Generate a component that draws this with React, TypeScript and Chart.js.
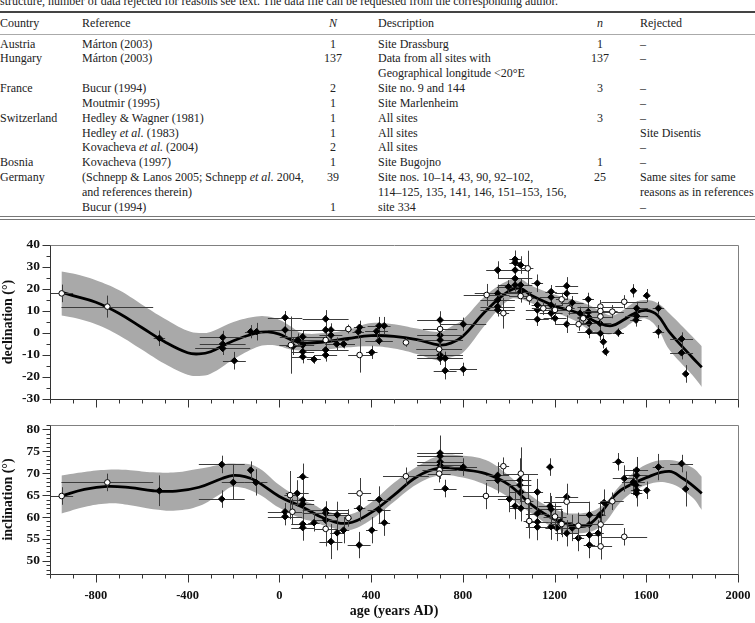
import React, { useEffect, useRef } from "react";
import { Chart, registerables } from "chart.js";
Chart.register(...registerables);

const SERIF = "'Liberation Serif', 'Times New Roman', serif";
Chart.defaults.font.family = SERIF;
Chart.defaults.color = "#111";

// ---------- table ----------
const CAPTION =
  "structure, number of data rejected for reasons see text. The data file can be requested from the corresponding author.";
const TABLE_HEAD = ["Country", "Reference", "N", "Description", "n", "Rejected"];
const TABLE_ROWS = [
  ["Austria", "Márton (2003)", "1", "Site Drassburg", "1", "–"],
  ["Hungary", "Márton (2003)", "137", "Data from all sites with", "137", "–"],
  ["", "", "", "Geographical longitude <20°E", "", ""],
  ["France", "Bucur (1994)", "2", "Site no. 9 and 144", "3", "–"],
  ["", "Moutmir (1995)", "1", "Site Marlenheim", "", "–"],
  ["Switzerland", "Hedley & Wagner (1981)", "1", "All sites", "3", "–"],
  ["", "Hedley et al. (1983)", "1", "All sites", "", "Site Disentis"],
  ["", "Kovacheva et al. (2004)", "2", "All sites", "", "–"],
  ["Bosnia", "Kovacheva (1997)", "1", "Site Bugojno", "1", "–"],
  ["Germany", "(Schnepp & Lanos 2005; Schnepp et al. 2004,", "39", "Site nos. 10–14, 43, 90, 92–102,", "25", "Same sites for same"],
  ["", "and references therein)", "", "114–125, 135, 141, 146, 151–153, 156,", "", "reasons as in references"],
  ["", "Bucur (1994)", "1", "site 334", "", "–"],
];

// ---------- axes ----------
const X_TICKS = [-800, -400, 0, 400, 800, 1200, 1600, 2000];
const DEC_TICKS = [-30, -20, -10, 0, 10, 20, 30, 40];
const INC_TICKS = [50, 55, 60, 65, 70, 75, 80];

// ---------- declination ----------
const DEC_CURVE_AGE = [-950, -900, -800, -700, -600, -500, -400, -350, -300, -200, -100, -50, 0, 50, 100, 200, 300, 400, 500, 600, 700, 750, 800, 900, 1000, 1050, 1100, 1200, 1300, 1400, 1450, 1500, 1550, 1600, 1650, 1700, 1800, 1842];
const DEC_CURVE = [18.5, 17, 14, 9, 2.5, -4, -9, -9.5, -8.5, -3.5, 0, 0.5, -0.5, -3, -4.5, -4, -2.5, -1.2, -1.5, -3, -5.5, -4.5, -1.5, 10, 19, 20.3, 17, 12.3, 9.2, 4.2, 3.3, 5.9, 9, 10.3, 8, 0.5, -11, -15.6];
const DEC_BAND_AGE = [-950, -900, -800, -700, -600, -500, -400, -350, -300, -200, -100, -50, 0, 50, 100, 200, 300, 400, 500, 600, 700, 750, 800, 900, 1000, 1050, 1100, 1200, 1300, 1350, 1400, 1450, 1500, 1550, 1600, 1650, 1700, 1800, 1842];
const DEC_BAND_HI = [28, 27, 24, 19.5, 13, 6.5, 1, 0, 0.5, 5, 7.5, 7.5, 6, 3, 0, 0, 1.5, 4.5, 4, 2, 0.5, 3, 6, 17, 24, 24.5, 21.5, 17.5, 14.5, 12.7, 10, 8, 10.5, 14, 15, 13.5, 9, -1.5, -6];
const DEC_BAND_LO = [8, 7, 4, -1, -7.5, -14, -19, -19.5, -18.5, -12, -6.5, -5.5, -6, -7.5, -8, -7.5, -6.5, -6, -7, -9.5, -12.5, -11, -9, 4, 15, 15.5, 13.5, 9.5, 5, 1.5, 0, -0.5, 2, 5.5, 6.5, 2, -7.5, -19, -24.5];
// [age, declination, age error, declination error, open marker]
const DEC_SAMPLES = [
  [-949, 18, 50, 4, 1], [-750, 12, 200, 5, 1], [-523, -2.4, 25, 3.5, 0],
  [-247, -2, 100, 3, 0], [-247, -5, 100, 3, 0], [-247, -7, 120, 3, 0], [-196, -12.6, 50, 4, 0],
  [-125, 0.6, 25, 3, 0], [-99, 0.6, 25, 4, 0], [25, 7, 75, 3, 0], [25, 1.4, 75, 3, 0],
  [50, -5.5, 50, 13, 1], [60, -6, 30, 4, 0], [80, -3.2, 30, 3, 0], [102, -1.7, 100, 3, 0],
  [102, -5.5, 50, 3, 0], [102, -8.5, 50, 3, 0], [102, -10.8, 50, 3, 0], [151, -12, 30, 2, 0],
  [202, 6.4, 100, 4, 0], [202, 1.4, 100, 3, 0], [202, -3.2, 100, 3, 1], [202, -7.7, 100, 3, 0],
  [202, -10, 50, 3, 0], [225, 1.4, 50, 3, 0], [225, -1, 50, 3, 0], [250, -5, 50, 3, 0],
  [280, -5, 50, 2, 0], [301, 1.8, 15, 2, 1], [344, 0.6, 25, 3, 0], [350, 2.6, 25, 3, 0],
  [350, -10, 50, 8, 1], [403, -8.8, 25, 3, 0], [424, 0.8, 50, 3, 0], [435, 3.3, 50, 4, 0],
  [457, 3.3, 25, 4, 0], [435, -3.5, 60, 2, 0], [552, -4.3, 10, 2, 1],
  [701, 5.9, 100, 4, 0], [701, 1.8, 75, 3, 1], [701, -1, 100, 3, 0], [701, -3.2, 100, 3, 0],
  [697, -7.4, 100, 3, 1], [701, -10, 100, 3, 0], [701, -11.5, 100, 3, 0], [723, -11.5, 75, 3, 0],
  [723, -17.1, 50, 4, 0], [802, -16.5, 60, 3, 0], [802, 4, 100, 3, 0], [904, 17.3, 100, 5, 1],
  [952, 28.6, 50, 4, 0], [952, 18, 100, 4, 0], [952, 15, 75, 3, 0], [952, 12, 75, 3, 0],
  [952, 10.5, 75, 3, 0], [977, 9, 25, 7, 1], [999, 21, 50, 3, 0], [1028, 33.5, 25, 4, 0],
  [1028, 32, 25, 4, 0], [1028, 28.6, 50, 3, 0], [1028, 24.8, 75, 3, 0], [1028, 21.8, 75, 3, 0],
  [1052, 16.8, 50, 3, 1], [1052, 30.9, 25, 4, 0], [1052, 21.8, 50, 3, 0], [1052, 18.8, 50, 3, 0],
  [1083, 29.4, 25, 8, 1], [1090, 15.8, 25, 3, 1], [1125, 22.6, 25, 4, 0], [1125, 12.7, 25, 3, 0],
  [1125, 10.5, 50, 3, 0], [1125, 6.2, 50, 3, 0], [1151, 11.2, 50, 3, 1], [1185, 18.8, 25, 3, 0],
  [1185, 16.3, 50, 3, 0], [1185, 12.7, 50, 3, 0], [1185, 9, 50, 3, 0], [1202, 10.5, 50, 3, 1],
  [1202, 6.7, 50, 3, 0], [1231, 15.3, 25, 3, 1], [1253, 21.4, 50, 4, 0], [1253, 18, 50, 3, 0],
  [1253, 4, 50, 4, 0], [1263, 11.2, 25, 3, 1], [1277, 13.8, 50, 3, 0], [1311, 9, 50, 3, 0],
  [1305, 4, 50, 3, 1], [1347, 15.3, 25, 3, 0], [1347, 9.7, 50, 3, 0], [1350, 7.1, 50, 3, 0],
  [1350, 4.4, 50, 3, 0], [1350, 0.6, 50, 3, 0], [1325, 6.7, 25, 3, 1], [1398, 4.4, 50, 3, 0],
  [1400, 12, 100, 3, 1], [1400, 10, 75, 3, 1], [1400, 7.5, 50, 3, 1], [1400, -0.2, 50, 3, 0],
  [1413, -4, 10, 3, 0], [1423, -8.5, 10, 2, 0], [1452, 9.7, 50, 3, 1], [1504, 14.2, 100, 3, 1],
  [1478, 0.2, 25, 2, 0], [1544, 19.2, 10, 3, 0], [1558, 11.2, 50, 3, 0], [1558, 7.7, 50, 3, 0],
  [1555, 5.9, 25, 3, 0], [1602, 17, 15, 3, 0], [1653, 11.2, 25, 3, 0], [1653, 0.6, 25, 3, 0],
  [1754, -2.7, 50, 3, 0], [1754, -9, 50, 3, 0], [1772, -18.6, 10, 4, 0],
];

// ---------- inclination ----------
const INC_CURVE_AGE = [-950, -850, -750, -650, -550, -450, -350, -250, -200, -150, -100, 0, 100, 200, 300, 400, 500, 600, 700, 800, 900, 1000, 1100, 1200, 1300, 1350, 1400, 1450, 1500, 1600, 1700, 1760, 1800, 1842];
const INC_CURVE = [64.8, 66.3, 67.0, 66.7, 66.0, 65.9, 66.8, 68.8, 69.5, 69.2, 68.2, 64.7, 62.3, 59.6, 58.6, 61, 65, 69.2, 71.2, 70.8, 69.9, 67.4, 62.8, 59.5, 57.9, 58.3, 60.8, 64.2, 66.5, 69, 70.4, 68.8, 67.3, 65.4];
const INC_BAND_AGE = [-950, -850, -750, -650, -550, -450, -350, -250, -200, -100, 0, 100, 150, 200, 300, 400, 500, 600, 700, 800, 900, 1000, 1100, 1200, 1300, 1400, 1500, 1600, 1700, 1800, 1842];
const INC_BAND_HI = [69.5, 70.3, 70.8, 70.7, 70.2, 70.2, 71, 72, 72.2, 71.5, 67.3, 64, 62.8, 61.5, 60.5, 63.3, 67.8, 71.5, 74, 74, 73, 69.5, 64.8, 61.8, 60.8, 62.3, 68, 72, 73, 71.3, 69.2];
const INC_BAND_LO = [60.8, 62.3, 63.1, 62.7, 61.8, 61.5, 62.5, 65.5, 66.9, 65.5, 62.1, 59.6, 59, 58, 57, 59.4, 63.5, 67.5, 69.5, 69, 67.3, 64.5, 60.8, 57.5, 56.3, 57.8, 64, 67.3, 67.7, 64.5, 61.6];
// [age, inclination, age error, inclination error, open marker]
const INC_SAMPLES = [
  [-949, 64.8, 50, 2, 1], [-750, 67.9, 200, 2, 1], [-523, 66, 0, 3.5, 0], [-251, 72, 100, 2, 0],
  [-251, 64.1, 100, 2, 0], [-201, 67.9, 50, 4, 0], [-125, 70.7, 0, 2, 0], [-102, 67.9, 50, 3, 0],
  [47, 65, 25, 5.5, 1], [25, 61.2, 75, 2, 0], [25, 60.1, 75, 2, 0], [57, 61.2, 25, 3, 1],
  [78, 65.4, 50, 3, 0], [102, 69.2, 25, 3, 0], [102, 63.9, 50, 3, 0], [102, 63, 50, 3, 0],
  [102, 58.4, 50, 3, 0], [102, 57.6, 50, 3, 0], [151, 58.7, 25, 2, 0], [202, 61.6, 100, 2, 0],
  [202, 60.9, 100, 2, 0], [202, 59.3, 50, 3, 0], [202, 57.3, 50, 4, 1], [225, 54.4, 50, 4, 0],
  [252, 60.5, 50, 3, 0], [252, 56.4, 30, 4, 0], [280, 57, 25, 3, 0], [301, 59.8, 15, 2, 1],
  [350, 65.4, 50, 3.5, 1], [350, 62, 25, 3, 0], [348, 53.6, 50, 3, 0], [403, 57, 25, 3, 0],
  [435, 64, 50, 3, 0], [435, 61.6, 50, 3, 0], [458, 58.7, 25, 3, 0], [552, 69.3, 100, 2, 1],
  [701, 74.6, 100, 4, 0], [701, 73.9, 100, 3, 0], [701, 72.6, 100, 3, 0], [701, 71.8, 100, 3, 0],
  [699, 70.7, 75, 2, 1], [697, 69.9, 50, 2, 1], [723, 66.5, 50, 2, 0], [802, 71.4, 60, 2, 0],
  [901, 64.8, 100, 3, 1], [952, 69.5, 50, 3, 0], [952, 68.4, 50, 3, 0], [977, 71.6, 25, 2, 1],
  [1003, 64.1, 50, 3, 0], [1028, 62.5, 25, 3, 0], [1049, 68.4, 50, 5, 0], [1053, 69.9, 75, 6, 1],
  [1049, 67.3, 50, 3, 0], [1053, 65.7, 50, 3, 0], [1053, 62, 50, 3, 0], [1083, 63.6, 25, 6, 1],
  [1090, 59.1, 25, 4, 1], [1125, 65.7, 25, 3, 0], [1125, 60.8, 50, 3, 0], [1125, 58.9, 50, 3, 0],
  [1125, 57.7, 50, 3, 0], [1180, 71.4, 15, 2, 0], [1180, 62.5, 50, 3, 0], [1185, 61.8, 50, 3, 0],
  [1202, 60.1, 50, 3, 1], [1185, 57.8, 50, 3, 0], [1210, 57.5, 50, 3, 0], [1227, 58.9, 50, 3, 0],
  [1231, 58.4, 50, 3, 1], [1253, 64.6, 50, 3, 0], [1253, 63.5, 100, 3, 1], [1253, 56.3, 50, 3, 0],
  [1277, 57.5, 25, 3, 0], [1304, 58, 50, 3, 1], [1304, 55.2, 25, 3, 0], [1352, 60.5, 50, 3, 0],
  [1352, 58.3, 50, 3, 0], [1352, 55.9, 50, 3, 0], [1352, 53.6, 25, 3, 0], [1390, 56.3, 25, 3, 0],
  [1401, 58.3, 100, 3, 1], [1401, 53.3, 50, 3, 1], [1504, 55.5, 100, 2, 1], [1398, 60.5, 25, 3, 0],
  [1416, 63.3, 25, 3, 0], [1452, 63.6, 50, 2, 1], [1478, 72.6, 25, 2, 0], [1504, 68.8, 50, 3, 0],
  [1544, 68, 50, 3, 0], [1558, 70.7, 50, 3, 0], [1558, 69.5, 50, 3, 0], [1555, 67.3, 25, 3, 0],
  [1558, 66.1, 25, 3, 0], [1558, 65.4, 25, 3, 0], [1602, 66.1, 10, 2, 0], [1653, 71.4, 25, 3, 0],
  [1754, 72.2, 50, 2, 0], [1772, 66.4, 10, 4, 0],
];

// ---------- plugins ----------
const errorBarPlugin = {
  id: "errbars",
  beforeDatasetDraw(chart: any, args: any) {
    const ds = chart.data.datasets[args.index];
    if (!ds.errors) return;
    const { ctx, chartArea: a, scales } = chart;
    const x = scales.x, y = scales.y;
    ctx.save();
    ctx.beginPath();
    ctx.rect(a.left, a.top, a.right - a.left, a.bottom - a.top);
    ctx.clip();
    ctx.strokeStyle = "#3c3c3c";
    ctx.lineWidth = 1;
    ctx.beginPath();
    ds.data.forEach((p: any, i: number) => {
      const [xe, ye] = ds.errors[i];
      const px = x.getPixelForValue(p.x);
      const py = y.getPixelForValue(p.y);
      if (xe) {
        ctx.moveTo(x.getPixelForValue(p.x - xe), Math.round(py) + 0.5);
        ctx.lineTo(x.getPixelForValue(p.x + xe), Math.round(py) + 0.5);
      }
      if (ye) {
        ctx.moveTo(Math.round(px) + 0.5, y.getPixelForValue(p.y - ye));
        ctx.lineTo(Math.round(px) + 0.5, y.getPixelForValue(p.y + ye));
      }
    });
    ctx.stroke();
    ctx.restore();
  },
};

const framePlugin = {
  id: "axisFrame",
  afterDatasetsDraw(chart: any, _args: any, opts: any) {
    const { ctx, chartArea: a, scales } = chart;
    const x = scales.x, y = scales.y;
    const L = Math.round(a.left) + 0.5, R = Math.round(a.right) + 0.5;
    const T = Math.round(a.top) + 0.5, B = Math.round(a.bottom) + 0.5;
    ctx.save();
    ctx.lineWidth = 1;
    ctx.strokeStyle = "#808080";
    ctx.beginPath();
    ctx.moveTo(L, T); ctx.lineTo(R, T); ctx.lineTo(R, B);
    ctx.stroke();
    ctx.strokeStyle = "#333";
    ctx.beginPath();
    ctx.moveTo(L, T); ctx.lineTo(L, B); ctx.lineTo(R, B);
    const eps = 1e-6;
    for (let v = Math.ceil(y.min / opts.yMinor) * opts.yMinor; v <= y.max + eps; v += opts.yMinor) {
      const r = Math.abs(v % opts.yMajor);
      const major = r < eps || Math.abs(r - opts.yMajor) < eps;
      const py = Math.round(y.getPixelForValue(v)) + 0.5;
      ctx.moveTo(L - (major ? 8 : 4), py);
      ctx.lineTo(L, py);
    }
    for (let v = x.min; v <= x.max + eps; v += opts.xMinor) {
      const r = Math.abs(v % opts.xMajor);
      const major = r < eps || Math.abs(r - opts.xMajor) < eps;
      const px = Math.round(x.getPixelForValue(v)) + 0.5;
      ctx.moveTo(px, B);
      ctx.lineTo(px, B + (major ? 8 : 4));
    }
    ctx.stroke();
    ctx.restore();
  },
};

function buildConfig(p: any) {
  const pts = (open: number) => p.samples.filter((s: number[]) => s[4] === open);
  const filled = pts(0), opened = pts(1);
  return {
    type: "line",
    data: {
      datasets: [
        {
          data: p.bandAge.map((a: number, i: number) => ({ x: a, y: p.bandHi[i] })),
          borderWidth: 0, pointRadius: 0, tension: 0.4, fill: false, order: 6,
          borderColor: "rgba(0,0,0,0)",
        },
        {
          data: p.bandAge.map((a: number, i: number) => ({ x: a, y: p.bandLo[i] })),
          borderWidth: 0, pointRadius: 0, tension: 0.4, fill: "-1", order: 5,
          borderColor: "rgba(0,0,0,0)", backgroundColor: "#a9a9a9",
        },
        {
          data: p.curveAge.map((a: number, i: number) => ({ x: a, y: p.curve[i] })),
          borderWidth: 2.8, borderColor: "#000", pointRadius: 0, tension: 0.4, fill: false, order: 3,
        },
        {
          data: filled.map((s: number[]) => ({ x: s[0], y: s[1] })),
          errors: filled.map((s: number[]) => [s[2], s[3]]),
          showLine: false, pointStyle: "rectRot", pointRadius: 3.3,
          pointBackgroundColor: "#000", pointBorderColor: "#000", pointBorderWidth: 1, order: 2,
        },
        {
          data: opened.map((s: number[]) => ({ x: s[0], y: s[1] })),
          errors: opened.map((s: number[]) => [s[2], s[3]]),
          showLine: false, pointStyle: "circle", pointRadius: 2.8,
          pointBackgroundColor: "#fff", pointBorderColor: "#000", pointBorderWidth: 1, order: 1,
        },
      ],
    },
    options: {
      animation: false,
      responsive: false,
      devicePixelRatio: 1,
      events: [],
      layout: { padding: { top: p.padTop, right: 17, left: 0, bottom: 0 } },
      plugins: {
        legend: { display: false },
        tooltip: { enabled: false },
        axisFrame: { xMinor: 100, xMajor: 400, yMinor: p.yMinor, yMajor: p.yMajor },
      },
      scales: {
        x: {
          type: "linear", min: -1000, max: 2000,
          afterBuildTicks: (s: any) => { s.ticks = X_TICKS.map((v) => ({ value: v })); },
          afterFit: (s: any) => { s.height = p.xHeight; s.paddingLeft = 0; s.paddingRight = 0; },
          grid: { display: false, drawTicks: true, tickLength: 8 },
          border: { display: false },
          ticks: {
            display: p.showX, autoSkip: false, maxRotation: 0, padding: 6, color: "#111",
            font: { size: 12.5, weight: "bold" }, callback: (v: any) => String(v),
          },
          title: {
            display: p.showX, text: "age (years AD)", color: "#111",
            font: { size: 14, weight: "bold" }, padding: { top: 0, bottom: 3 },
          },
        },
        y: {
          type: "linear", min: p.yMin, max: p.yMax,
          afterBuildTicks: (s: any) => { s.ticks = p.yTicks.map((v: number) => ({ value: v })); },
          afterFit: (s: any) => { s.width = 50; s.paddingTop = 0; s.paddingBottom = 0; },
          grid: { display: false, drawTicks: true, tickLength: 8 },
          border: { display: false },
          ticks: {
            autoSkip: false, padding: 2, color: "#111",
            font: { size: 13.5, weight: "bold" }, callback: (v: any) => String(v),
          },
          title: {
            display: true, text: p.yTitle, color: "#111",
            font: { size: 14, weight: "bold" }, padding: { top: 0, bottom: 0 },
          },
        },
      },
    },
    plugins: [errorBarPlugin, framePlugin],
  };
}

function ChartCanvas({ top, height, params }: any) {
  const ref = useRef<HTMLCanvasElement>(null);
  useEffect(() => {
    const chart = new Chart(ref.current as HTMLCanvasElement, buildConfig(params) as any);
    return () => chart.destroy();
  }, []);
  return (
    <canvas
      ref={ref}
      width={755}
      height={height}
      style={{ position: "absolute", left: 0, top, width: 755, height, display: "block" }}
    />
  );
}

// ---------- table layout ----------
const COL_LEFT = [0, 82, 0, 378, 0, 640];
const COL_CENTER = [0, 0, 333, 0, 600, 0];
const HEAD_Y = 23;
const ROW0_Y = 44;
const ROW_STEP = 14.85;
const LINE_H = 15;

function withItalics(text: string) {
  const parts = text.split("et al.");
  const out: any[] = [];
  parts.forEach((part, i) => {
    if (i > 0) out.push(<i key={"i" + i}>et al.</i>);
    out.push(<span key={"s" + i}>{part}</span>);
  });
  return out;
}

function Cell({ text, col, y, italic }: any) {
  const centered = col === 2 || col === 4;
  const style: any = {
    position: "absolute",
    top: y - LINE_H / 2,
    lineHeight: LINE_H + "px",
    whiteSpace: "nowrap",
    fontStyle: italic ? "italic" : "normal",
  };
  if (centered) {
    style.left = COL_CENTER[col] - 30;
    style.width = 60;
    style.textAlign = "center";
  } else {
    style.left = COL_LEFT[col];
  }
  return <div style={style}>{withItalics(text)}</div>;
}

function Table() {
  return (
    <div style={{ position: "absolute", left: 0, top: 0, width: 755, height: 225, overflow: "hidden", fontFamily: SERIF, fontSize: 12, color: "#222" }}>
      <div style={{ position: "absolute", left: 0, top: -6, lineHeight: LINE_H + "px", whiteSpace: "nowrap" }}>{CAPTION}</div>
      <div style={{ position: "absolute", left: 0, top: 11, width: 755, height: 1.5, background: "#444" }} />
      {TABLE_HEAD.map((h, c) => (
        <Cell key={"h" + c} text={h} col={c} y={HEAD_Y} italic={c === 2 || c === 4} />
      ))}
      <div style={{ position: "absolute", left: 0, top: 34, width: 755, height: 1, background: "#aaa" }} />
      {TABLE_ROWS.map((row, r) =>
        row.map((t, c) => (t ? <Cell key={r + "-" + c} text={t} col={c} y={ROW0_Y + r * ROW_STEP} /> : null))
      )}
      <div style={{ position: "absolute", left: 0, top: 216, width: 755, height: 1, background: "#777" }} />
      <div style={{ position: "absolute", left: 0, top: 218.5, width: 755, height: 1, background: "#777" }} />
    </div>
  );
}

const DEC_PARAMS = {
  curveAge: DEC_CURVE_AGE, curve: DEC_CURVE, bandAge: DEC_BAND_AGE, bandHi: DEC_BAND_HI, bandLo: DEC_BAND_LO,
  samples: DEC_SAMPLES, yMin: -30, yMax: 40, yTicks: DEC_TICKS, yMinor: 5, yMajor: 10,
  yTitle: "declination (°)", showX: false, xHeight: 13, padTop: 10,
};
const INC_PARAMS = {
  curveAge: INC_CURVE_AGE, curve: INC_CURVE, bandAge: INC_BAND_AGE, bandHi: INC_BAND_HI, bandLo: INC_BAND_LO,
  samples: INC_SAMPLES, yMin: 47, yMax: 81, yTicks: INC_TICKS, yMinor: 1, yMajor: 5,
  yTitle: "inclination (°)", showX: true, xHeight: 49, padTop: 4,
};

export default function App() {
  return (
    <div style={{ position: "absolute", left: 0, top: 0, width: 755, height: 623, overflow: "hidden", background: "#fff" }}>
      <Table />
      <ChartCanvas top={235} height={177} params={DEC_PARAMS} />
      <ChartCanvas top={420} height={203} params={INC_PARAMS} />
    </div>
  );
}
